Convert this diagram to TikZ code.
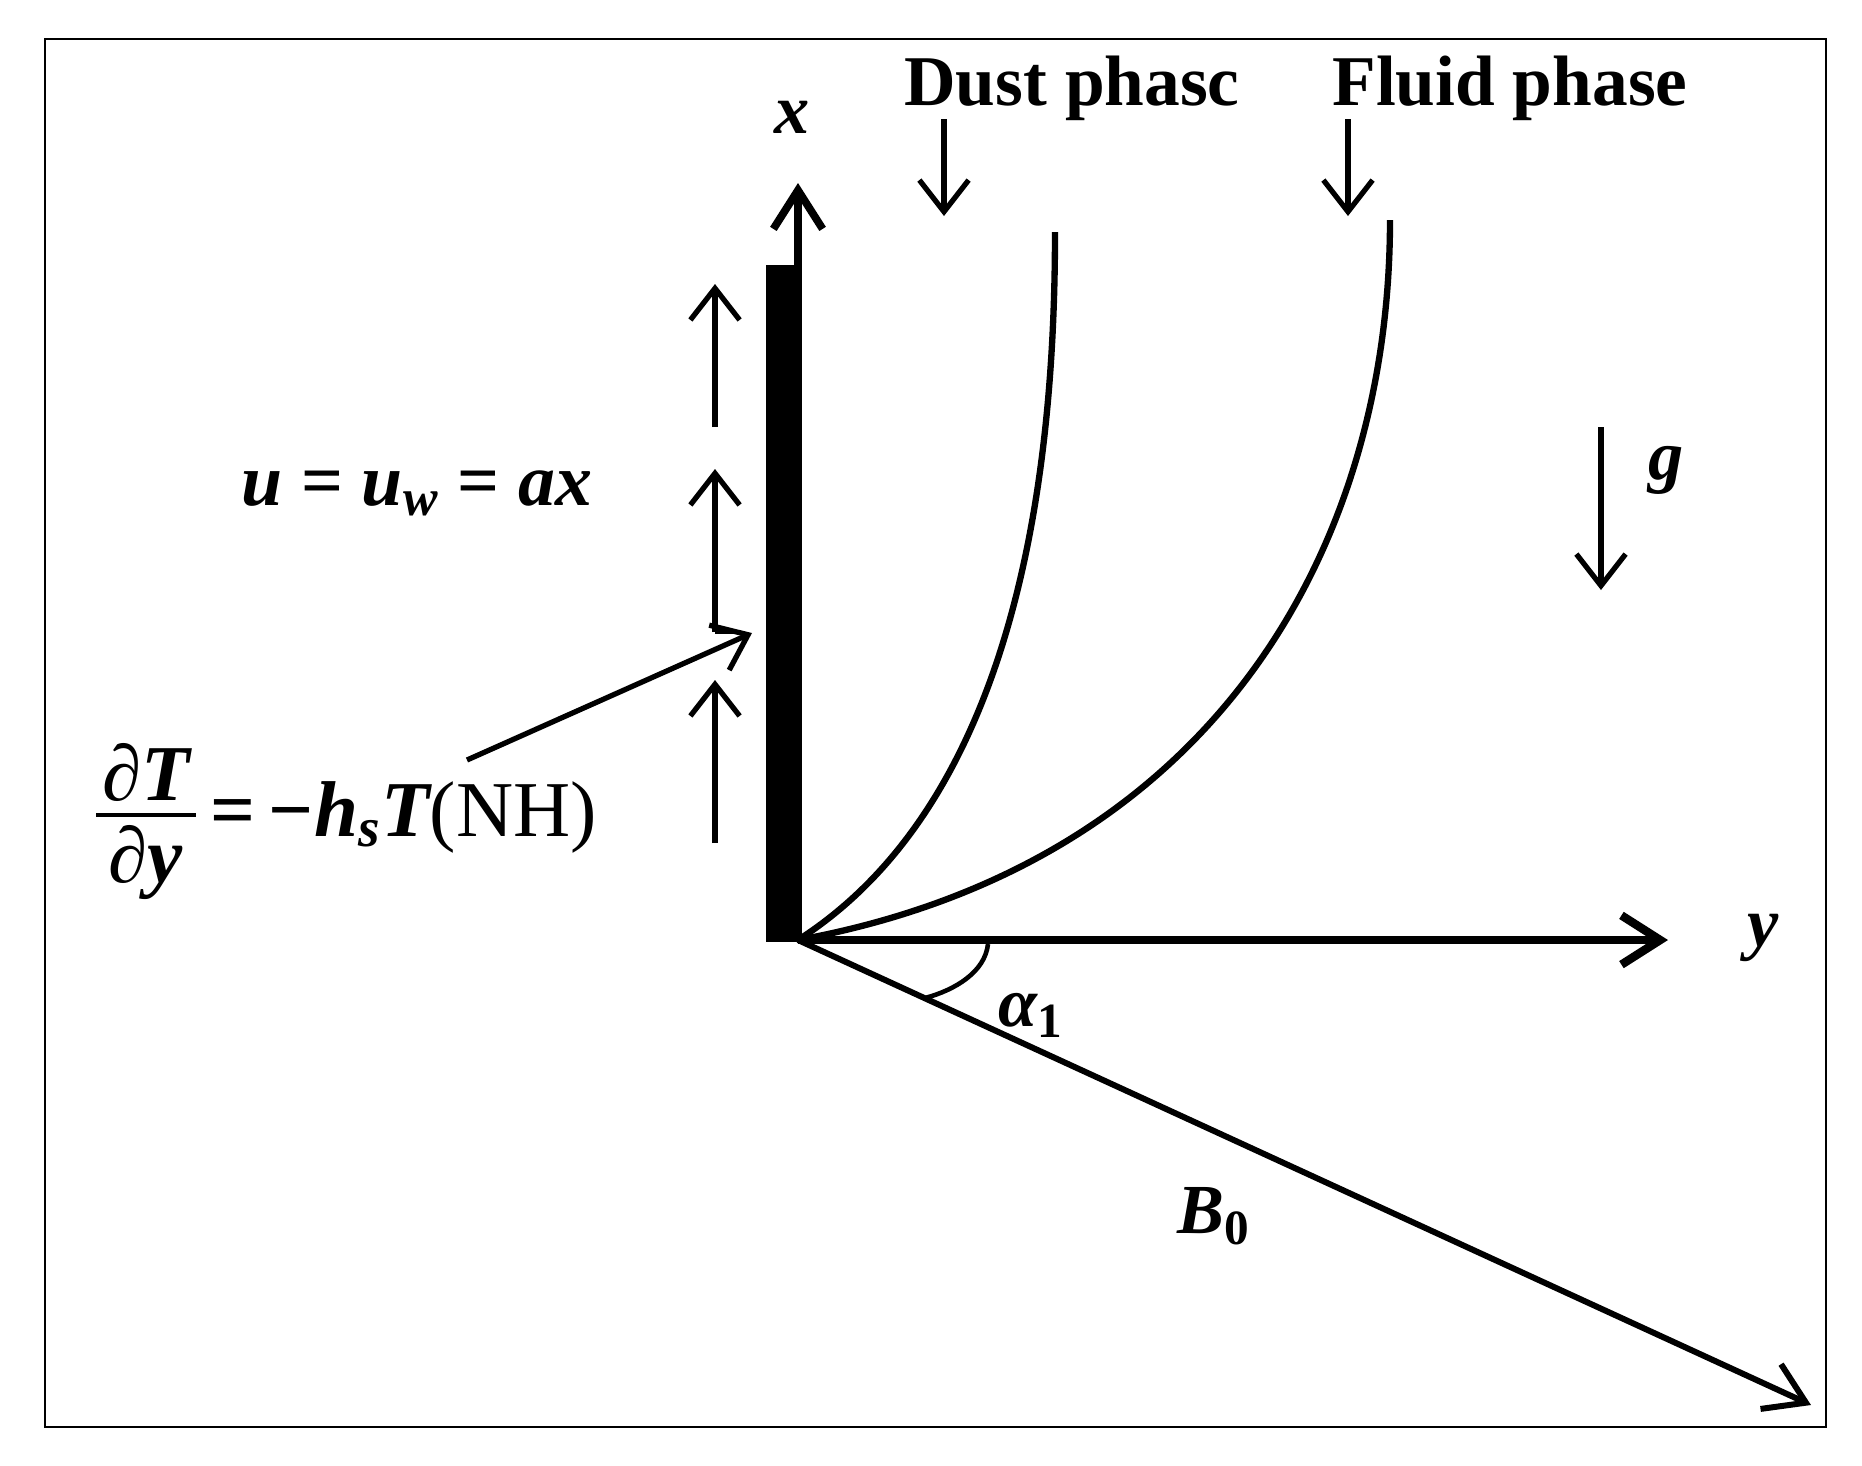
\documentclass[tikz,border=0pt]{standalone}
\usepackage{fontspec}
\setmainfont{Liberation Serif}
\usetikzlibrary{arrows.meta}
\tikzset{
  bigtip/.style={-{Straight Barb[length=11pt,width=14pt]}},
  smalltip/.style={-{Straight Barb[length=9pt,width=14pt]}},
  lbl/.style={font=\fontsize{20}{24}\selectfont\bfseries\itshape, inner sep=0pt},
  head/.style={font=\fontsize{20.3}{24}\selectfont\bfseries, inner sep=0pt},
  eqn/.style={font=\fontsize{22.5}{27}\selectfont, inner sep=0pt},
  thinarrow/.style={line width=1.5pt, smalltip},
  profile/.style={line width=1.8pt},
}
\begin{document}
\begin{tikzpicture}[x=0.01cm,y=-0.01cm]
\useasboundingbox (0,0) rectangle (1862,1465);
% frame
\draw[line width=0.8pt] (45,39) rectangle (1826,1427);
% key points
\coordinate (O) at (798,940);
\coordinate (xtip) at (798,183);
\coordinate (ytip) at (1668,940);
\coordinate (Btip) at (1811,1405);
% wall
\fill (766,265) rectangle (800,942);
% axes
\draw[line width=2.2pt, bigtip] (O) -- (xtip);
\draw[line width=2.4pt, bigtip] (O) -- (ytip);
\draw[line width=1.7pt, bigtip] (O) -- (Btip);
% angle arc
\coordinate (a1) at (988,944);
\coordinate (a2) at (925,998);
\draw[line width=1.3pt] (a1) .. controls (985,972) and (955,990) .. (a2);
% profiles
\coordinate (dtop) at (1055,232);
\coordinate (ftop) at (1390,220);
\draw[profile] (O) .. controls (1020,798) and (1055,464) .. (dtop);
\draw[profile] (O) .. controls (1213,864) and (1390,549) .. (ftop);
% velocity arrows along wall
\coordinate (v1a) at (715,427); \coordinate (v1b) at (715,284);
\coordinate (v2a) at (715,632); \coordinate (v2b) at (715,469);
\coordinate (v3a) at (715,843); \coordinate (v3b) at (715,680);
\draw[thinarrow] (v1a) -- (v1b);
\draw[thinarrow] (v2a) -- (v2b);
\draw[thinarrow] (v3a) -- (v3b);
\coordinate (tickend) at (736,632);
\draw[line width=1.3pt] (v2a) -- (tickend);
% headings and their arrows
\node[head, anchor=base] (dust) at (1072,105) {Dust phasc};
\node[head, anchor=base] (fluid) at (1510,105) {Fluid phase};
\coordinate (da) at (944,119); \coordinate (db) at (944,216);
\coordinate (fa) at (1348,119); \coordinate (fb) at (1348,216);
\draw[thinarrow] (da) -- (db);
\draw[thinarrow] (fa) -- (fb);
% gravity
\coordinate (ga) at (1601,427); \coordinate (gb) at (1601,590);
\draw[thinarrow] (ga) -- (gb);
\node[lbl] (g) at (1666,470) {g};
% axis labels
\node[lbl] (xl) at (792,117) {x};
\node[lbl] (yl) at (1763,938) {y};
\node[lbl] (al) at (1031,1015) {α\textsubscript{\upshape 1}};
\node[lbl] (bl) at (1214,1216) {B\textsubscript{\upshape 0}};
% velocity condition
\node[lbl, font=\fontsize{21}{24}\selectfont\bfseries\itshape, anchor=base] (uw) at (417,505) {u {\upshape =} u\textsubscript{w} {\upshape =} ax};
% thermal condition
\node[eqn, font=\fontsize{22.5}{27}\selectfont\bfseries\itshape] (num) at (146,772) {∂T};
\node[eqn, font=\fontsize{22.5}{27}\selectfont\bfseries\itshape] (den) at (146,862) {∂y};
\coordinate (fr1) at (96,815); \coordinate (fr2) at (196,815);
\draw[line width=1.3pt] (fr1) -- (fr2);
\node[eqn, anchor=base west] (rhs) at (210,836) {{\bfseries =\,−}{\bfseries\itshape h\textsubscript{s}T}(NH)};
% pointer
\coordinate (pa) at (467,760); \coordinate (pb) at (752,633);
\draw[line width=1.5pt, smalltip] (pa) -- (pb);
\end{tikzpicture}
\end{document}
